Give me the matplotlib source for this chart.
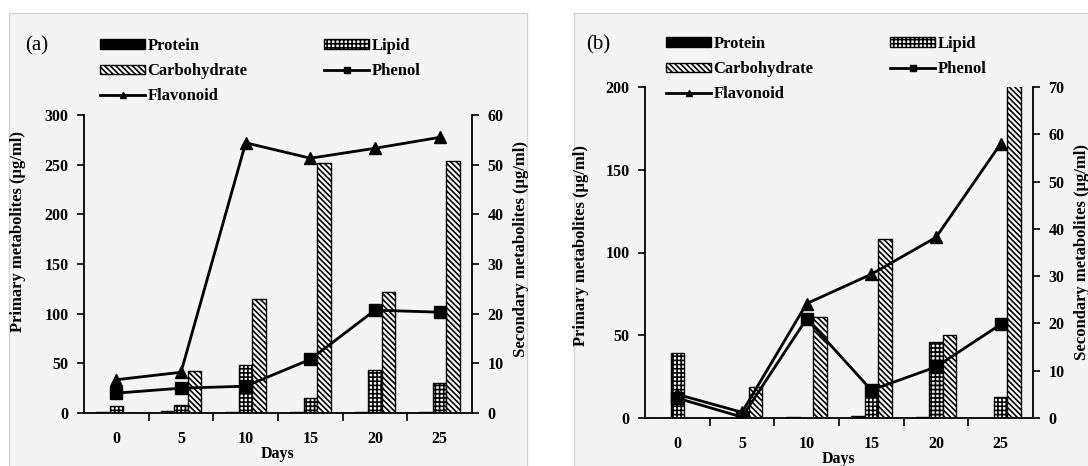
import numpy as np
import matplotlib
matplotlib.use("Agg")
import matplotlib.pyplot as plt
from matplotlib.patches import Rectangle, Patch
from matplotlib.lines import Line2D

plt.rcParams['font.family'] = ['Liberation Serif', 'DejaVu Serif']
plt.rcParams['font.weight'] = 'bold'
plt.rcParams['axes.labelweight'] = 'bold'
plt.rcParams['hatch.linewidth'] = 1.2

days = ['0', '5', '10', '15', '20', '25']

# panel (a)
protein_a = [1.5, 2.5, 1.0, 1.0, 1.0, 1.0]
lipid_a = [7, 8, 48, 15, 43, 30]
carb_a = [0, 42, 115, 252, 122, 254]
phenol_a = [4.0, 5.0, 5.4, 10.8, 20.7, 20.3]
flavonoid_a = [6.7, 8.2, 54.4, 51.3, 53.3, 55.5]

# panel (b)
protein_b = [0, 0, 0.5, 1.5, 0.5, 0]
lipid_b = [39, 0, 0, 13, 46, 12.5]
carb_b = [0, 19, 61, 108, 50, 215]
phenol_b = [4.2, 0.2, 21.0, 5.9, 10.8, 19.8]
flavonoid_b = [5.0, 1.2, 24.2, 30.4, 38.2, 58.0]

W, H = 1088, 466
fig = plt.figure(figsize=(W / 100, H / 100), dpi=100)
fig.patch.set_facecolor('white')

# light grey framed boxes behind each panel
for (l, t, r, b) in [(9, 13, 527, 480), (574, 13, 1100, 480)]:
    fig.patches.append(Rectangle((l / W, 1 - b / H), (r - l) / W, (b - t) / H,
                                 transform=fig.transFigure, facecolor='#f4f4f4',
                                 edgecolor='#d4d4d4', lw=1.0, zorder=-10))

LIPID_HATCH = '++++'
CARB_HATCH = '\\' * 6


def add_ax(l, t, r, b):
    return fig.add_axes([l / W, 1 - b / H, (r - l) / W, (b - t) / H])


def panel(box, protein, lipid, carb, phenol, flavonoid, ymax1, ymax2, tag,
          tag_xy, leg_xy, lab_left, lab_right):
    ax = add_ax(*box)
    ax.set_facecolor('none')
    x = np.arange(len(days))
    w = 0.21
    ax.bar(x - w, protein, w, color='black', edgecolor='black', lw=1.0, zorder=2)
    ax.bar(x, lipid, w, color='white', edgecolor='black', hatch=LIPID_HATCH, lw=1.0, zorder=2)
    ax.bar(x + w, carb, w, color='white', edgecolor='black', hatch=CARB_HATCH, lw=1.0, zorder=2)
    ax.set_xlim(-0.5, len(days) - 0.5)
    ax.set_ylim(0, ymax1)
    ax.set_yticks(np.arange(0, ymax1 + 1, 50))
    ax.set_xticks(x)
    ax.set_xticklabels(days)
    ax.set_xticks(np.arange(0.5, len(days) - 0.5, 1), minor=True)
    ax.tick_params(axis='x', which='major', length=0, pad=13, labelsize=11.5)
    ax.tick_params(axis='x', which='minor', length=6, direction='out', width=1.2)
    ax.tick_params(axis='y', length=5, width=1.2, labelsize=11.5, pad=6)
    ax.spines['top'].set_visible(False)
    ax.spines['right'].set_visible(False)
    for s in ['left', 'bottom']:
        ax.spines[s].set_linewidth(1.3)
    ax.set_xlabel('Days', fontsize=11.5, labelpad=-1)

    ax2 = ax.twinx()
    ax2.plot(x, phenol, color='black', lw=2, marker='s', ms=8, zorder=3)
    ax2.plot(x, flavonoid, color='black', lw=2, marker='^', ms=9, zorder=3)
    ax2.set_ylim(0, ymax2)
    ax2.set_yticks(np.arange(0, ymax2 + 1, 10))
    ax2.tick_params(axis='y', length=5, width=1.2, labelsize=11.5, pad=6)
    for s in ['top', 'left', 'bottom']:
        ax2.spines[s].set_visible(False)
    ax2.spines['right'].set_linewidth(1.3)

    ax.set_ylabel('Primary metabolites (µg/ml)', fontsize=12)
    ax.yaxis.set_label_coords(*lab_left)
    ax2.set_ylabel('Secondary metabolites (µg/ml)', fontsize=12, rotation=90)
    ax2.yaxis.set_label_coords(*lab_right)

    fig.text(tag_xy[0] / W, 1 - tag_xy[1] / H, tag, fontsize=15, fontweight='normal',
             ha='left', va='center')

    handles = [
        Patch(facecolor='black', edgecolor='black'),
        Patch(facecolor='white', edgecolor='black', hatch=CARB_HATCH),
        Line2D([], [], color='black', lw=2, marker='^', ms=5),
        Patch(facecolor='white', edgecolor='black', hatch=LIPID_HATCH),
        Line2D([], [], color='black', lw=2, marker='s', ms=5),
    ]
    labels = ['Protein', 'Carbohydrate', 'Flavonoid', 'Lipid', 'Phenol']
    ax.legend(handles, labels, ncol=2, loc='upper left',
              bbox_to_anchor=(leg_xy[0] / W, 1 - leg_xy[1] / H),
              bbox_transform=fig.transFigure, frameon=False, fontsize=12,
              handlelength=2.7, handleheight=0.5, handletextpad=0.15,
              labelspacing=0.55, columnspacing=4.6, borderpad=0, borderaxespad=0)
    return ax, ax2


panel((84, 115, 472, 413), protein_a, lipid_a, carb_a, phenol_a, flavonoid_a,
      300, 60, '(a)', (25, 46), (100, 38), (-0.15, 0.61), (1.105, 0.55))
panel((645, 87, 1033, 418), protein_b, lipid_b, carb_b, phenol_b, flavonoid_b,
      200, 70, '(b)', (586, 45), (666, 36), (-0.145, 0.52), (1.105, 0.5))

fig.savefig('out.png', dpi=100)
